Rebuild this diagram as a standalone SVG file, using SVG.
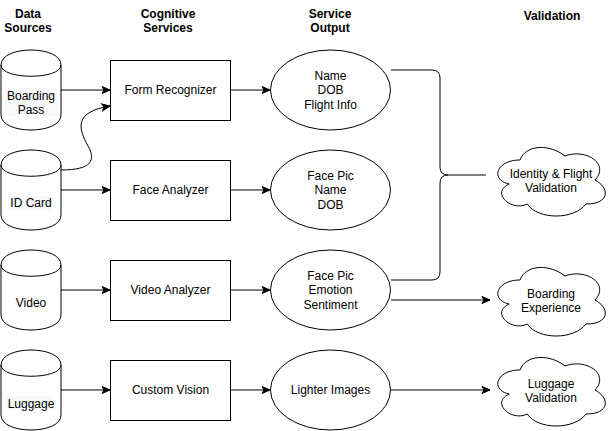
<svg xmlns="http://www.w3.org/2000/svg" width="611" height="431" viewBox="0 0 611 431">
<defs>
<marker id="arr" markerWidth="10" markerHeight="10" refX="9" refY="5" orient="auto" markerUnits="userSpaceOnUse">
<path d="M1 1.5 L9 5 L1 8.5 L3 5 Z" fill="#000" stroke="#000" stroke-width="1"/>
</marker>
<path id="cloud" d="M30 20 C6 20 0 40 19.2 44 C0 52.8 21.6 72 37.2 64 C48 80 84 80 96 64 C120 64 120 48 105 40 C120 24 96 8 75 16 C60 4 36 4 30 20 Z"/>
</defs>
<style>
text{font-family:"Liberation Sans",Arial,Helvetica,sans-serif;font-size:12px;fill:#000;text-anchor:middle}
.h{font-weight:bold}
.s{fill:#fff;stroke:#000;stroke-width:1}
.e{fill:none;stroke:#000;stroke-width:1}
.bg{fill:#f8f9fa;stroke:none}
</style>
<rect width="611" height="431" fill="#fff"/>
<g id="headers">
<text class="h" x="28" y="18">Data</text>
<text class="h" x="28" y="32">Sources</text>
<text class="h" x="168" y="18">Cognitive</text>
<text class="h" x="168" y="32">Services</text>
<text class="h" x="330" y="18">Service</text>
<text class="h" x="330" y="32">Output</text>
<text class="h" x="552" y="20">Validation</text>
</g>
<g id="edges">
<path class="e" d="M61 90 H110" marker-end="url(#arr)"/>
<path class="e" d="M61 170 C92 170 96 160 88 146 C78 128 74 112 110 106" marker-end="url(#arr)"/>
<path class="e" d="M61 190 H110" marker-end="url(#arr)"/>
<path class="e" d="M61 290 H110" marker-end="url(#arr)"/>
<path class="e" d="M61 390 H110" marker-end="url(#arr)"/>
<path class="e" d="M230 90 H270" marker-end="url(#arr)"/>
<path class="e" d="M230 190 H270" marker-end="url(#arr)"/>
<path class="e" d="M230 290 H270" marker-end="url(#arr)"/>
<path class="e" d="M230 390 H270" marker-end="url(#arr)"/>
<path class="e" d="M391 70 H432 Q440 70 440 78 V167 Q440 175 448 175 H486"/>
<path class="e" d="M391 280 H432 Q440 280 440 272 V183 Q440 175 448 175"/>
<path class="e" d="M391 300 H490" marker-end="url(#arr)"/>
<path class="e" d="M391 390 H490" marker-end="url(#arr)"/>
</g>
<g id="boarding-pass">
<path class="s" d="M1 65 C1 45 61 45 61 65 L61 115 C61 135 1 135 1 115 Z"/>
<path class="e" d="M1 65 C1 80 61 80 61 65"/>
<rect class="bg" x="5" y="88" width="52" height="28"/>
<text x="31" y="99.5">Boarding</text>
<text x="31" y="113.9">Pass</text>
</g>
<g id="id-card">
<path class="s" d="M1 165 C1 145 61 145 61 165 L61 215 C61 235 1 235 1 215 Z"/>
<path class="e" d="M1 165 C1 180 61 180 61 165"/>
<rect class="bg" x="8" y="196" width="44" height="14"/>
<text x="31" y="207.2">ID Card</text>
</g>
<g id="video">
<path class="s" d="M1 265 C1 245 61 245 61 265 L61 315 C61 335 1 335 1 315 Z"/>
<path class="e" d="M1 265 C1 280 61 280 61 265"/>
<text x="31" y="306.5">Video</text>
</g>
<g id="luggage">
<path class="s" d="M1 365 C1 345 61 345 61 365 L61 415 C61 435 1 435 1 415 Z"/>
<path class="e" d="M1 365 C1 380 61 380 61 365"/>
<rect class="bg" x="6" y="396" width="48" height="14"/>
<text x="31" y="407.5">Luggage</text>
</g>
<g id="form-recognizer">
<rect class="s" x="110.5" y="60.5" width="120" height="60"/>
<text x="170.5" y="94.2">Form Recognizer</text>
</g>
<g id="face-analyzer">
<rect class="s" x="110.5" y="160.5" width="120" height="60"/>
<text x="170.5" y="194.2">Face Analyzer</text>
</g>
<g id="video-analyzer">
<rect class="s" x="110.5" y="260.5" width="120" height="60"/>
<text x="170.5" y="294.2">Video Analyzer</text>
</g>
<g id="custom-vision">
<rect class="s" x="110.5" y="360.5" width="120" height="60"/>
<text x="170.5" y="394.2">Custom Vision</text>
</g>
<g id="out-form">
<ellipse class="s" cx="330.5" cy="90" rx="60" ry="40"/>
<text x="330.5" y="79.8">Name</text>
<text x="330.5" y="94.2">DOB</text>
<text x="330.5" y="108.6">Flight Info</text>
</g>
<g id="out-face">
<ellipse class="s" cx="330.5" cy="190" rx="60" ry="40"/>
<text x="330.5" y="179.8">Face Pic</text>
<text x="330.5" y="194.2">Name</text>
<text x="330.5" y="208.6">DOB</text>
</g>
<g id="out-video">
<ellipse class="s" cx="330.5" cy="290" rx="60" ry="40"/>
<text x="330.5" y="279.8">Face Pic</text>
<text x="330.5" y="294.2">Emotion</text>
<text x="330.5" y="308.6">Sentiment</text>
</g>
<g id="out-custom">
<ellipse class="s" cx="330.5" cy="390" rx="60" ry="40"/>
<text x="330.5" y="394.2">Lighter Images</text>
</g>
<g id="identity-validation">
<use href="#cloud" class="s" x="490" y="140"/>
<text x="551" y="177.8">Identity &amp; Flight</text>
<text x="551" y="192.2">Validation</text>
</g>
<g id="boarding-experience">
<use href="#cloud" class="s" x="490" y="260"/>
<text x="551" y="297.8">Boarding</text>
<text x="551" y="312.2">Experience</text>
</g>
<g id="luggage-validation">
<use href="#cloud" class="s" x="490" y="350"/>
<text x="551" y="387.8">Luggage</text>
<text x="551" y="402.2">Validation</text>
</g>
</svg>
